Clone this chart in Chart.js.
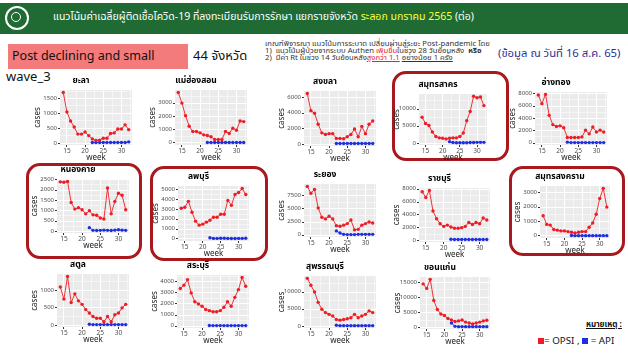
<!DOCTYPE html>
<html><head><meta charset="utf-8">
<script src="https://cdn.jsdelivr.net/npm/chart.js@4"></script>
<style>
body{margin:0;width:628px;height:353px;overflow:hidden;background:#fff;position:relative;font-family:"Noto Sans Thai","Noto Sans",sans-serif;}
.abs{position:absolute;white-space:nowrap;}
#hdr{left:0;top:3px;width:628px;height:31px;background:#1F6B33;}
#logo{left:5px;top:6px;width:20px;height:20px;border:2px solid #fff;border-radius:50%;}
#logo2{left:11px;top:12px;width:8px;height:8px;border:1.5px solid #fff;border-radius:50%;}
#htxt{left:53px;top:10px;font-size:10.5px;color:#fff;line-height:15px;}
#htxt .y{color:#FFFF33;}
#pink{left:8px;top:44px;width:180px;height:25px;background:#F47B7B;}
#pinkt{left:12px;top:48px;font-size:12.5px;color:#111;line-height:17px;}
#cnt{left:193px;top:48px;font-size:13px;color:#111;line-height:17px;}
#crit{left:265px;top:41px;font-size:7.7px;line-height:6.8px;color:#333;}
#crit .r{color:#E8202A;}
#date{left:498px;top:46px;font-size:11.3px;color:#2E3192;line-height:16px;}
#wave{left:6px;top:69px;font-size:13px;color:#111;line-height:16px;}
.box{position:absolute;border:3px solid #A8181C;border-radius:14px;box-sizing:border-box;}
canvas{position:absolute;}
#note{left:586px;top:319px;font-size:8px;font-weight:bold;color:#111;}
#leg{left:538px;top:334px;font-size:9.8px;color:#111;}
.sq{display:inline-block;width:6px;height:6px;vertical-align:middle;}
</style></head>
<body>
<div id="hdr" class="abs"></div>
<div id="logo" class="abs"></div><div id="logo2" class="abs"></div>
<div id="htxt" class="abs">แนวโน้มค่าเฉลี่ยผู้ติดเชื้อโควิด-19 ที่ลงทะเบียนรับการรักษา แยกรายจังหวัด <span class="y">ระลอก มกราคม 2565</span> (ต่อ)</div>
<div id="pink" class="abs"></div>
<div id="pinkt" class="abs">Post declining and small</div>
<div id="cnt" class="abs">44 จังหวัด</div>
<div id="crit" class="abs">เกณฑ์พิจารณา แนวโน้มการระบาด เปลี่ยนผ่านสู่ระยะ Post-pandemic โดย<br>1)&nbsp; แนวโน้มผู้ป่วยจากระบบ Authen <span class="r">เพิ่มขึ้น</span>ในช่วง 28 วันย้อนหลัง&nbsp; <b>หรือ</b><br>2)&nbsp; มีค่า Rt ในช่วง 14 วันย้อนหลัง<span class="r"><u>สูงกว่า 1.1</u></span> <u>อย่างน้อย 1 ครั้ง</u></div>
<div id="date" class="abs">(ข้อมูล ณ วันที่ 16 ส.ค. 65)</div>
<div id="wave" class="abs">wave_3</div>
<div class="box" style="left:392px;top:71px;width:117px;height:90px;"></div>
<div class="box" style="left:26px;top:163px;width:116px;height:96px;"></div>
<div class="box" style="left:150px;top:166px;width:118px;height:95px;"></div>
<div class="box" style="left:509px;top:166px;width:116px;height:90px;"></div>
<div id="note" class="abs"><u>หมายเหตุ :</u></div>
<div id="leg" class="abs"><span class="sq" style="background:#EE1C25"></span>= OPSI , <span class="sq" style="background:#1F2FE0"></span> = API</div>
<script>
// ---- data ----
const weeks = [14,15,16,17,18,19,20,21,22,23,24,25,26,27,28,29,30,31,32];
const apiWeeks = [22,23,24,25,26,27,28,29,30,31,32];
const xTicks = [15,20,25,30];

const yala_opsi = [1700,1050,750,550,310,310,380,260,150,100,110,170,170,330,350,480,480,620,460];
const yala_api  = [30,30,30,30,30,30,30,30,30,30,50];
const yala_ticks = [0,500,1000,1500];

const mhs_opsi = [3800,3000,2050,1250,850,850,750,600,550,450,250,250,250,850,700,1100,950,1650,1600];
const mhs_api  = [20,20,20,20,20,20,20,20,20,20,20];
const mhs_ticks = [0,1000,2000,3000];

const songkhla_opsi = [6500,4300,4000,2600,1500,1300,1400,1400,800,800,750,1000,1300,2000,1000,2300,1400,2600,3000];
const songkhla_api  = [150,150,150,150,150,150,150,150,150,150,150];
const songkhla_ticks = [0,2000,4000,6000];

const sks_opsi = [7600,5800,5200,3300,2000,1600,1500,1300,1500,1600,1600,2000,3000,6600,9300,13700,13300,13500,11000];
const sks_api  = [500,250,200,200,200,200,250,250,300,300,300];
const sks_ticks = [0,5000,10000];

const angthong_opsi = [7800,6400,7900,4500,3000,2700,2800,2500,900,900,900,900,1000,2100,1500,2600,1800,2100,1800];
const angthong_api  = [150,80,80,80,80,80,80,80,80,80,80];
const angthong_ticks = [0,2000,4000,6000,8000];

const nongkhai_opsi = [2400,2380,2420,1400,1080,1150,1050,850,1000,800,780,650,600,2100,850,1450,1850,1750,1050];
const nongkhai_api  = [180,50,40,50,60,50,40,60,80,60,50];
const nongkhai_ticks = [0,500,1000,1500,2000,2500];

const lopburi_opsi = [3100,3200,3800,2700,1800,1400,1500,1700,1900,2200,2200,2500,2500,3900,3400,4500,4700,5100,4500];
const lopburi_api  = [120,60,60,70,80,60,50,50,60,60,70];
const lopburi_ticks = [0,1000,2000,3000,4000,5000];

const rayong_opsi = [9300,8000,8700,5200,3400,3100,3600,3100,1800,1700,1900,2200,2900,1000,1100,1900,2200,2500,2300];
const rayong_api  = [800,400,150,100,100,100,150,150,150,150,150];
const rayong_ticks = [0,2500,5000,7500];

const ratchaburi_opsi = [7600,6700,7800,4600,3400,2600,2200,2400,2100,1900,1900,2000,2200,2800,2500,2800,2600,3500,3200];
const ratchaburi_api  = [200,150,150,150,150,150,150,150,150,150,150];
const ratchaburi_ticks = [0,2000,4000,6000,8000];

const skm_opsi = [1400,800,750,450,400,350,350,300,250,200,250,300,300,600,900,1500,2600,3300,2000];
const skm_api  = [30,20,20,20,20,20,20,20,20,20,20];
const skm_ticks = [0,1000,2000,3000];

const satun_opsi = [1100,750,1400,650,900,700,600,450,350,250,200,200,100,250,100,300,350,500,600];
const satun_api  = [30,20,20,20,20,20,20,20,20,20,20];
const satun_ticks = [0,500,1000];

const saraburi_opsi = [3400,3700,4200,3000,2200,2000,1800,1500,1400,1300,1300,1400,1700,2200,1800,2600,3300,4400,3600];
const saraburi_api  = [60,50,50,50,50,50,50,50,50,50,50];
const saraburi_ticks = [0,1000,2000,3000,4000];

const suphan_opsi = [14000,12000,10000,7000,5000,4000,3500,3000,2000,1800,2000,2200,2500,3500,2500,3000,3500,4500,4000];
const suphan_api  = [300,200,200,200,200,200,200,200,200,200,200];
const suphan_ticks = [0,5000,10000];

const khonkaen_opsi = [14500,13000,16000,9000,6000,4500,4000,3000,2500,2000,2200,2500,1800,1500,1200,1500,1800,2200,2400];
const khonkaen_api  = [1500,400,300,300,300,300,300,300,300,300,300];
const khonkaen_ticks = [0,5000,10000,15000];

// ---- layout (plot rect: left, top, width, height) ----
const panels = [
  {name:'ยะลา', opsi:yala_opsi, api:yala_api, ticks:yala_ticks, rect:[60,90,72,55]},
  {name:'แม่ฮ่องสอน', opsi:mhs_opsi, api:mhs_api, ticks:mhs_ticks, rect:[175,90,72,55]},
  {name:'สงขลา', opsi:songkhla_opsi, api:songkhla_api, ticks:songkhla_ticks, rect:[304,91,72,55]},
  {name:'สมุทรสาคร', opsi:sks_opsi, api:sks_api, ticks:sks_ticks, rect:[419,94,68,51]},
  {name:'อ่างทอง', opsi:angthong_opsi, api:angthong_api, ticks:angthong_ticks, rect:[535,92,72,53]},
  {name:'หนองคาย', opsi:nongkhai_opsi, api:nongkhai_api, ticks:nongkhai_ticks, rect:[57,179,72,54]},
  {name:'ลพบุรี', opsi:lopburi_opsi, api:lopburi_api, ticks:lopburi_ticks, rect:[178,186,71,55]},
  {name:'ระยอง', opsi:rayong_opsi, api:rayong_api, ticks:rayong_ticks, rect:[304,184,72,53]},
  {name:'ราชบุรี', opsi:ratchaburi_opsi, api:ratchaburi_api, ticks:ratchaburi_ticks, rect:[419,188,71,54]},
  {name:'สมุทรสงคราม', opsi:skm_opsi, api:skm_api, ticks:skm_ticks, rect:[540,186,70,52]},
  {name:'สตูล', opsi:satun_opsi, api:satun_api, ticks:satun_ticks, rect:[57,274,72,53]},
  {name:'สระบุรี', opsi:saraburi_opsi, api:saraburi_api, ticks:saraburi_ticks, rect:[177,275,72,53]},
  {name:'สุพรรณบุรี', opsi:suphan_opsi, api:suphan_api, ticks:suphan_ticks, rect:[304,276,72,52]},
  {name:'ขอนแก่น', opsi:khonkaen_opsi, api:khonkaen_api, ticks:khonkaen_ticks, rect:[420,277,70,52]}
];

const RED = '#EE1C25', BLUE = '#1F2FE0';
const FAM = '"Noto Sans Thai","Noto Sans",sans-serif';
const bgPlugin = {id:'ggbg', beforeDraw(c){const a=c.chartArea;const x=c.ctx;x.save();x.fillStyle='#EBEBEB';x.fillRect(a.left,a.top,a.right-a.left,a.bottom-a.top);x.restore();}};

function withMinor(major, lo, hi){
  const out=[]; const step=major[1]-major[0];
  for(let i=0;i<major.length;i++){ out.push({value:major[i], major:true}); }
  for(let i=-1;i<major.length;i++){ const m=major[0]+(i+0.5)*step; if(m>lo && m<hi) out.push({value:m, major:false}); }
  out.sort((a,b)=>a.value-b.value);
  return out.filter(t=>t.value>=lo && t.value<=hi);
}

panels.forEach(p=>{
  const [px,py,pw,ph]=p.rect;
  const cv=document.createElement('canvas');
  const L=px-30,T=py-16,W=pw+34,H=ph+34;
  cv.width=W; cv.height=H; cv.style.left=L+'px'; cv.style.top=T+'px'; cv.style.width=W+'px'; cv.style.height=H+'px';
  document.body.appendChild(cv);
  const all=p.opsi.concat(p.api);
  const lo=Math.min(...all), hi=Math.max(...all), r=hi-lo;
  const ymin=lo-0.05*r, ymax=hi+0.05*r;
  const xmin=weeks[0]-0.05*(weeks[weeks.length-1]-weeks[0]), xmax=weeks[weeks.length-1]+0.05*(weeks[weeks.length-1]-weeks[0]);
  const yT=withMinor(p.ticks, ymin, ymax), xT=withMinor(xTicks, xmin, xmax);
  const isMaj=(arr,v)=>{const t=arr.find(t=>Math.abs(t.value-v)<1e-6);return t?t.major:false;};
  new Chart(cv,{type:'line',
    data:{datasets:[
      {data:weeks.map((w,i)=>({x:w,y:p.opsi[i]})), borderColor:RED, backgroundColor:RED, borderWidth:0.9, pointRadius:1.7, pointBorderWidth:0, tension:0},
      {data:apiWeeks.map((w,i)=>({x:w,y:p.api[i]})), borderColor:BLUE, backgroundColor:BLUE, borderWidth:0.9, pointRadius:1.7, pointBorderWidth:0, tension:0}
    ]},
    options:{responsive:false, animation:false, devicePixelRatio:1, events:[],
      layout:{padding:{right:4,left:0,top:0,bottom:0}},
      plugins:{legend:{display:false}, tooltip:{enabled:false},
        title:{display:true, text:p.name, color:'#000', font:{size:8.5, lineHeight:1, family:FAM}, padding:{top:3,bottom:4.5}}},
      scales:{
        x:{type:'linear', min:xmin, max:xmax,
          afterBuildTicks:s=>{s.ticks=xT.map(t=>({value:t.value}));},
          afterFit:s=>{s.height=18;},
          border:{display:false},
          grid:{color:'#FFFFFF', lineWidth:c=>isMaj(xT,c.tick?c.tick.value:NaN)?1:0.5, tickLength:2, tickColor:c=>isMaj(xT,c.tick?c.tick.value:NaN)?'#333':'rgba(0,0,0,0)'},
          ticks:{autoSkip:false, maxRotation:0, padding:1, color:'#4D4D4D', font:{size:6.5, family:FAM}, callback:v=>isMaj(xT,v)?String(v):''},
          title:{display:true, text:'week', color:'#222', font:{size:8, family:FAM}, padding:{top:0,bottom:0}}},
        y:{type:'linear', min:ymin, max:ymax,
          afterBuildTicks:s=>{s.ticks=yT.map(t=>({value:t.value}));},
          afterFit:s=>{s.width=30;},
          border:{display:false},
          grid:{color:'#FFFFFF', lineWidth:c=>isMaj(yT,c.tick?c.tick.value:NaN)?1:0.5, tickLength:2, tickColor:c=>isMaj(yT,c.tick?c.tick.value:NaN)?'#333':'rgba(0,0,0,0)'},
          ticks:{autoSkip:false, padding:1, color:'#4D4D4D', font:{size:6, family:FAM}, callback:v=>isMaj(yT,v)?String(v):''},
          title:{display:true, text:'cases', color:'#222', font:{size:8, family:FAM}, padding:{top:3.5,bottom:0}}}
      }
    },
    plugins:[bgPlugin]
  });
});
</script>
</body></html>
